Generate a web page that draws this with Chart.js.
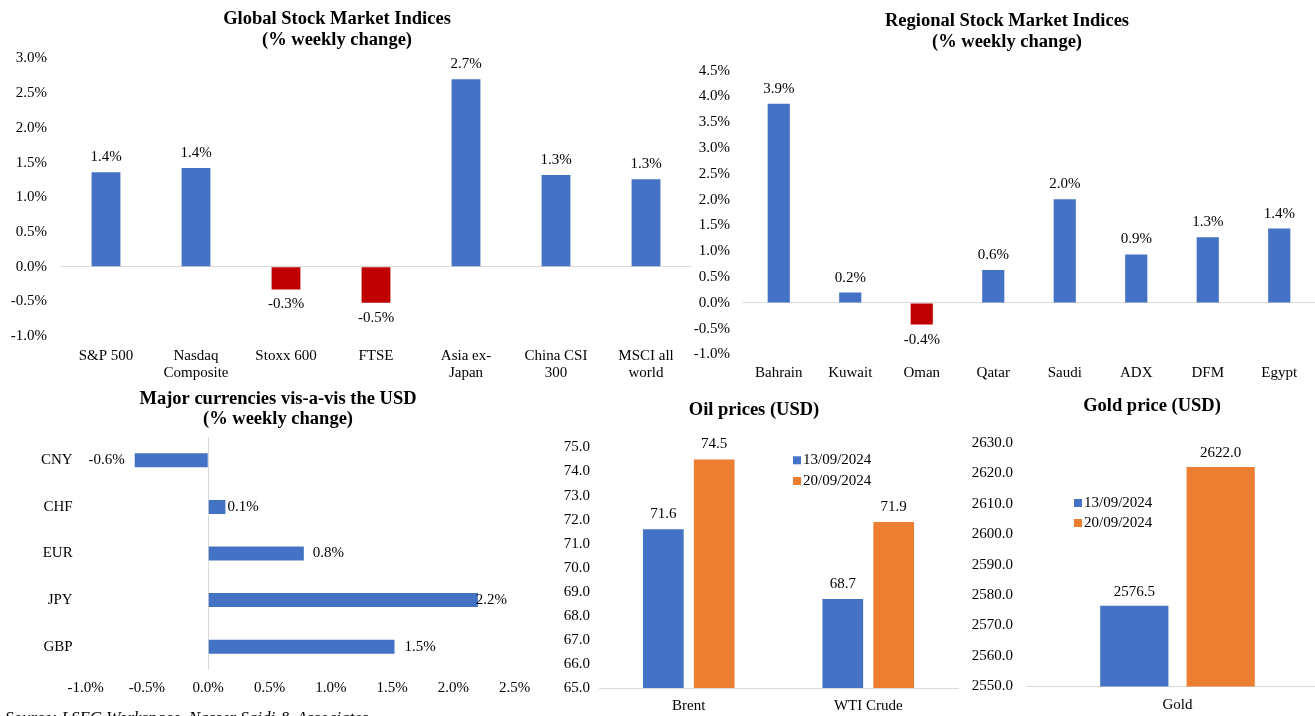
<!DOCTYPE html>
<html><head><meta charset="utf-8">
<script src="https://cdn.jsdelivr.net/npm/chart.js@4.4.1/dist/chart.umd.min.js"></script>
<style>
html,body{margin:0;padding:0;background:#fff;overflow:hidden;width:1315px;height:716px;position:relative;}
canvas{position:absolute;}
#source{position:absolute;left:5px;top:709px;font:italic 17px/17px 'Liberation Serif','Times New Roman',serif;white-space:nowrap;color:#000;}
</style></head><body>
<canvas id="c1" style="left:0;top:0;width:700px;height:385px" width="700" height="385"></canvas>
<canvas id="c2" style="left:660px;top:0;width:655px;height:390px" width="655" height="390"></canvas>
<canvas id="c3" style="left:0;top:385px;width:560px;height:331px" width="560" height="331"></canvas>
<canvas id="c4" style="left:556px;top:385px;width:404px;height:331px" width="404" height="331"></canvas>
<canvas id="c5" style="left:960px;top:385px;width:370px;height:331px" width="370" height="331"></canvas>
<div id="source">Source: LSEG Workspace, Nasser Saidi &amp; Associates</div>
<script>
// ---------- data ----------
const globalCategories = [['S&P 500'], ['Nasdaq', 'Composite'], ['Stoxx 600'], ['FTSE'], ['Asia ex-', 'Japan'], ['China CSI', '300'], ['MSCI all', 'world']];
const globalValues = [1.36, 1.42, -0.33, -0.52, 2.70, 1.32, 1.26];

const regionalCategories = ['Bahrain', 'Kuwait', 'Oman', 'Qatar', 'Saudi', 'ADX', 'DFM', 'Egypt'];
const regionalValues = [3.86, 0.20, -0.42, 0.64, 2.01, 0.94, 1.27, 1.44];

const currencyCategories = ['CNY', 'CHF', 'EUR', 'JPY', 'GBP'];
const currencyValues = [-0.60, 0.14, 0.78, 2.20, 1.52];

const seriesDates = ['13/09/2024', '20/09/2024'];
const oilCategories = ['Brent', 'WTI Crude'];
const oilPrev = [71.6, 68.7];
const oilLatest = [74.5, 71.9];

const goldCategories = ['Gold'];
const goldPrev = [2576.5];
const goldLatest = [2622.0];

// ---------- style ----------
const FONT = "'Liberation Serif', 'Times New Roman', serif";
const BLUE = '#4472C4', RED = '#C00000', ORANGE = '#ED7D31', AXIS = '#D9D9D9';
Chart.defaults.font.family = FONT;
Chart.defaults.font.size = 15;
Chart.defaults.color = '#000';

function makeTitle(lines, x, y, rowH) {
  return { id: 'panelTitle', afterDraw(chart) {
    const ctx = chart.ctx; ctx.save();
    ctx.font = 'bold 18.5px ' + FONT; ctx.fillStyle = '#000';
    ctx.textAlign = 'center'; ctx.textBaseline = 'middle';
    lines.forEach((t, i) => ctx.fillText(t, x, y + i * rowH));
    ctx.restore();
  }};
}
function makeValueLabels(offset, decimals, suffix, gaps) {
  return { id: 'valueLabels', afterDatasetsDraw(chart) {
    const ctx = chart.ctx; ctx.save();
    ctx.font = '15px ' + FONT; ctx.fillStyle = '#000';
    const horizontal = chart.options.indexAxis === 'y';
    chart.data.datasets.forEach((ds, di) => {
      chart.getDatasetMeta(di).data.forEach((bar, i) => {
        const v = ds.data[i];
        const txt = v.toFixed(decimals) + suffix;
        if (horizontal) {
          const g = gaps ? gaps[i] : offset;
          ctx.textBaseline = 'middle';
          if (v >= 0) { ctx.textAlign = 'left'; ctx.fillText(txt, bar.x + g, bar.y); }
          else { ctx.textAlign = 'right'; ctx.fillText(txt, bar.x - g, bar.y); }
        } else {
          ctx.textAlign = 'center'; ctx.textBaseline = 'middle';
          ctx.fillText(txt, bar.x, v >= 0 ? bar.y - offset : bar.y + offset);
        }
      });
    });
    ctx.restore();
  }};
}
function makeLegend(x, y, rowH) {
  return { id: 'boxLegend', afterDraw(chart) {
    const ctx = chart.ctx; ctx.save();
    ctx.font = '15px ' + FONT; ctx.textAlign = 'left'; ctx.textBaseline = 'middle';
    chart.data.datasets.forEach((ds, i) => {
      const cy = y + i * rowH;
      ctx.fillStyle = ds.backgroundColor;
      ctx.fillRect(x, cy - 4, 8, 8);
      ctx.fillStyle = '#000';
      ctx.fillText(ds.label, x + 10, cy);
    });
    ctx.restore();
  }};
}
const zeroLine = ctx => (ctx.tick && Math.abs(ctx.tick.value) < 1e-9) ? AXIS : 'rgba(0,0,0,0)';
const pct = v => Number(v).toFixed(1) + '%';
const one = v => Number(v).toFixed(1);
const base = { responsive: false, animation: false, devicePixelRatio: 1,
  plugins: { legend: { display: false }, tooltip: { enabled: false } } };
const noGrid = { display: false, drawTicks: false };

// ---------- Global ----------
new Chart(document.getElementById('c1'), {
  type: 'bar',
  data: { labels: globalCategories, datasets: [{ data: globalValues,
    backgroundColor: globalValues.map(v => v < 0 ? RED : BLUE), barPercentage: 0.32, categoryPercentage: 1 }] },
  options: { ...base,
    layout: { padding: { left: 0, right: 9, top: 58.5, bottom: 0 } },
    scales: {
      x: { grid: noGrid, border: { display: false },
        ticks: { padding: 11, font: { size: 15, lineHeight: 1.15 }, maxRotation: 0, autoSkip: false },
        afterFit: s => { s.height = 49; } },
      y: { min: -1, max: 3, ticks: { stepSize: 0.5, padding: 14, callback: pct },
        grid: { color: zeroLine, drawTicks: false }, border: { display: false },
        afterFit: s => { s.width = 61; } }
    } },
  plugins: [makeTitle(['Global Stock Market Indices', '(% weekly change)'], 337, 19.5, 21), makeValueLabels(15, 1, '%')]
});

// ---------- Regional ----------
new Chart(document.getElementById('c2'), {
  type: 'bar',
  data: { labels: regionalCategories, datasets: [{ data: regionalValues,
    backgroundColor: regionalValues.map(v => v < 0 ? RED : BLUE), barPercentage: 0.31, categoryPercentage: 1 }] },
  options: { ...base,
    layout: { padding: { left: 0, right: 0, top: 70.7, bottom: 0 } },
    scales: {
      x: { grid: noGrid, border: { display: false },
        ticks: { padding: 9.5, font: { size: 15, lineHeight: 1.15 }, maxRotation: 0, autoSkip: false },
        afterFit: s => { s.height = 35.5; } },
      y: { min: -1, max: 4.5, ticks: { stepSize: 0.5, padding: 13, callback: pct },
        grid: { color: zeroLine, drawTicks: false }, border: { display: false },
        afterFit: s => { s.width = 83; } }
    } },
  plugins: [makeTitle(['Regional Stock Market Indices', '(% weekly change)'], 347, 21.2, 21), makeValueLabels(15, 1, '%')]
});

// ---------- Currencies ----------
new Chart(document.getElementById('c3'), {
  type: 'bar',
  data: { labels: currencyCategories, datasets: [{ data: currencyValues,
    backgroundColor: BLUE, barPercentage: 0.30, categoryPercentage: 1 }] },
  options: { ...base, indexAxis: 'y',
    layout: { padding: { left: 0, right: 45.4, top: 52, bottom: 0 } },
    scales: {
      y: { grid: noGrid, border: { display: false },
        ticks: { padding: 13, autoSkip: false }, afterFit: s => { s.width = 85.7; } },
      x: { min: -1, max: 2.5, ticks: { stepSize: 0.5, padding: 9, callback: pct, maxRotation: 0 },
        grid: { color: zeroLine, drawTicks: false }, border: { display: false },
        afterFit: s => { s.height = 46; } }
    } },
  plugins: [makeTitle(['Major currencies vis-a-vis the USD', '(% weekly change)'], 278, 14.3, 20), makeValueLabels(10, 1, '%', [10, 2, 9, -2, 10])]
});

// ---------- Oil ----------
new Chart(document.getElementById('c4'), {
  type: 'bar',
  data: { labels: oilCategories, datasets: [
    { label: seriesDates[0], data: oilPrev, backgroundColor: BLUE, barPercentage: 0.8, categoryPercentage: 0.567 },
    { label: seriesDates[1], data: oilLatest, backgroundColor: ORANGE, barPercentage: 0.8, categoryPercentage: 0.567 }] },
  options: { ...base,
    layout: { padding: { left: 0, right: 2, top: 62.5, bottom: 0 } },
    scales: {
      x: { grid: noGrid, border: { display: true, color: AXIS, width: 1 },
        ticks: { padding: 9, maxRotation: 0 }, afterFit: s => { s.height = 28; } },
      y: { min: 65, max: 75, ticks: { stepSize: 1, padding: 9, callback: one },
        grid: noGrid, border: { display: false }, afterFit: s => { s.width = 43; } }
    } },
  plugins: [makeTitle(['Oil prices (USD)'], 198, 25, 21), makeValueLabels(15, 1, ''), makeLegend(237, 75.3, 20.7)]
});

// ---------- Gold ----------
new Chart(document.getElementById('c5'), {
  type: 'bar',
  data: { labels: goldCategories, datasets: [
    { label: seriesDates[0], data: goldPrev, backgroundColor: BLUE, barPercentage: 0.79, categoryPercentage: 0.57 },
    { label: seriesDates[1], data: goldLatest, backgroundColor: ORANGE, barPercentage: 0.79, categoryPercentage: 0.57 }] },
  options: { ...base,
    layout: { padding: { left: 0, right: 1, top: 57.7, bottom: 0 } },
    scales: {
      x: { grid: noGrid, border: { display: true, color: AXIS, width: 1 },
        ticks: { padding: 9.5, maxRotation: 0 }, afterFit: s => { s.height = 29.5; } },
      y: { min: 2550, max: 2630, ticks: { stepSize: 10, padding: 13, callback: one },
        grid: noGrid, border: { display: false }, afterFit: s => { s.width = 66; } }
    } },
  plugins: [makeTitle(['Gold price (USD)'], 192, 21.7, 21), makeValueLabels(14, 1, ''), makeLegend(114, 118, 20)]
});
</script>
</body></html>
